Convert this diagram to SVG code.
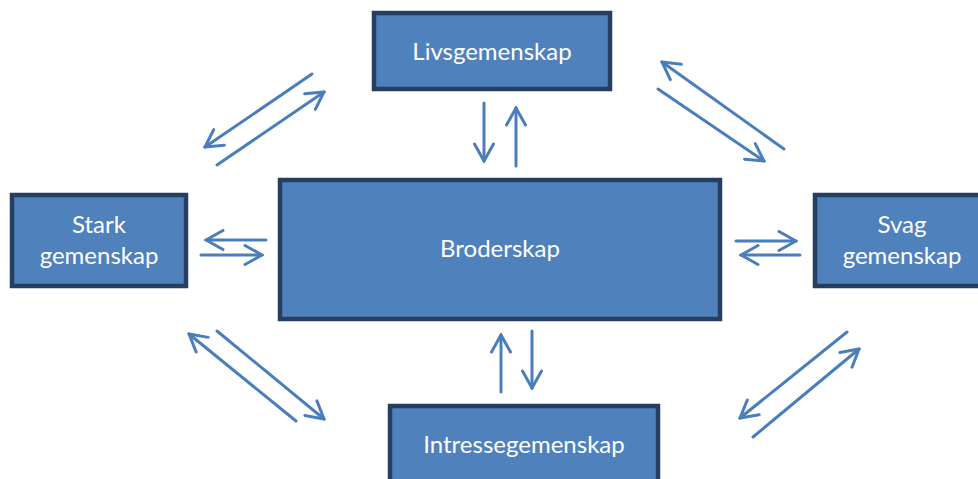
<svg xmlns="http://www.w3.org/2000/svg" width="978" height="479" viewBox="0 0 978 479">
<style>
.box{fill:#4F81BD;stroke:#253F60;stroke-width:4.5}
.lbl{fill:#FFFFFF;font-family:Lato,"Open Sans","Liberation Sans",sans-serif;font-size:24px;text-anchor:middle}
.arr{fill:none;stroke:#4A7EBB;stroke-width:3;stroke-linecap:round;marker-end:url(#head)}
</style>
<defs>
<marker id="head" markerUnits="userSpaceOnUse" viewBox="-20 -11 22 22" markerWidth="22" markerHeight="22" refX="0" refY="0" orient="auto">
<path d="M-17,-9.5 L0,0 L-17,9.5" fill="none" stroke="#4A7EBB" stroke-width="3" stroke-linecap="round" stroke-linejoin="miter"/>
</marker>
</defs>
<rect width="978" height="479" fill="#FFFFFF"/>
<g id="connectors">
<line class="arr" x1="312" y1="74" x2="205" y2="147"/>
<line class="arr" x1="217" y1="165" x2="324" y2="92"/>
<line class="arr" x1="266" y1="240" x2="206" y2="240"/>
<line class="arr" x1="201" y1="255" x2="262" y2="255"/>
<line class="arr" x1="736" y1="241" x2="796" y2="241"/>
<line class="arr" x1="800" y1="255" x2="741" y2="255"/>
<line class="arr" x1="484" y1="103" x2="484" y2="161"/>
<line class="arr" x1="516" y1="166" x2="516" y2="108"/>
<line class="arr" x1="501" y1="392" x2="501" y2="335"/>
<line class="arr" x1="532" y1="331" x2="532" y2="388"/>
<line class="arr" x1="784" y1="149" x2="662" y2="62"/>
<line class="arr" x1="658" y1="89" x2="764" y2="161"/>
<line class="arr" x1="296" y1="421" x2="189" y2="334"/>
<line class="arr" x1="217" y1="331" x2="324" y2="419"/>
<line class="arr" x1="847" y1="332" x2="740" y2="418"/>
<line class="arr" x1="753" y1="437" x2="859" y2="349"/>
</g>
<g id="livsgemenskap">
<rect class="box" x="374" y="13" width="236" height="76"/>
<text class="lbl" x="492" y="60">Livsgemenskap</text>
</g>
<g id="broderskap">
<rect class="box" x="280" y="180" width="440" height="139"/>
<text class="lbl" x="500" y="257">Broderskap</text>
</g>
<g id="stark">
<rect class="box" x="12" y="195" width="174" height="91"/>
<text class="lbl" x="99" y="233">Stark</text>
<text class="lbl" x="99" y="264">gemenskap</text>
</g>
<g id="svag">
<rect class="box" x="815" y="195" width="180" height="91"/>
<text class="lbl" x="902" y="233">Svag</text>
<text class="lbl" x="902" y="264">gemenskap</text>
</g>
<g id="intressegemenskap">
<rect class="box" x="390" y="406" width="268" height="90"/>
<text class="lbl" x="524" y="453">Intressegemenskap</text>
</g>
</svg>
